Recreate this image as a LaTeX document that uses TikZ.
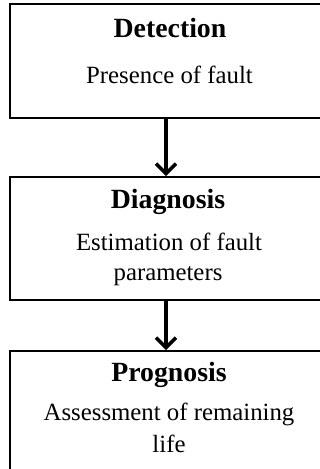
\documentclass[tikz,border=0pt]{standalone}
\usepackage{fontspec}
\setmainfont{Liberation Serif}
\usetikzlibrary{arrows.meta}
\begin{document}
\begin{tikzpicture}[x=1pt,y=-1pt,
  box/.style={draw=black,line width=2pt,minimum width=314pt,inner sep=0pt,anchor=north west},
  ttl/.style={anchor=base,inner sep=0pt,font=\fontsize{27.8}{30}\selectfont\bfseries},
  txt/.style={anchor=base,inner sep=0pt,font=\fontsize{24.8}{30}\selectfont},
  conn/.style={line width=3.5pt,-{Straight Barb[length=10pt,width=20pt,line width=3.5pt]}}]
\useasboundingbox (0,0) rectangle (320,469);
\clip (0,0) rectangle (320,469);
\node[box,minimum height=114pt] (b1) at (9,3) {};
\node[box,minimum height=123pt] (b2) at (9,176) {};
\node[box,minimum height=130pt] (b3) at (9,350) {};
\node[ttl] (t1) at (170,37) {Detection};
\node[txt] (s1) at (169.5,83) {Presence of fault};
\node[ttl] (t2) at (168,208) {Diagnosis};
\node[txt] (s2a) at (169,250) {Estimation of fault};
\node[txt] (s2b) at (168,280) {parameters};
\node[ttl] (t3) at (169,381) {Prognosis};
\node[txt] (s3a) at (169,420) {Assessment of remaining};
\node[txt] (s3b) at (169,452) {life};
\coordinate (ax) at (166,0);
\draw[conn] (b1.south -| ax) -- (b2.north -| ax);
\draw[conn] (b2.south -| ax) -- (b3.north -| ax);
\end{tikzpicture}
\end{document}
